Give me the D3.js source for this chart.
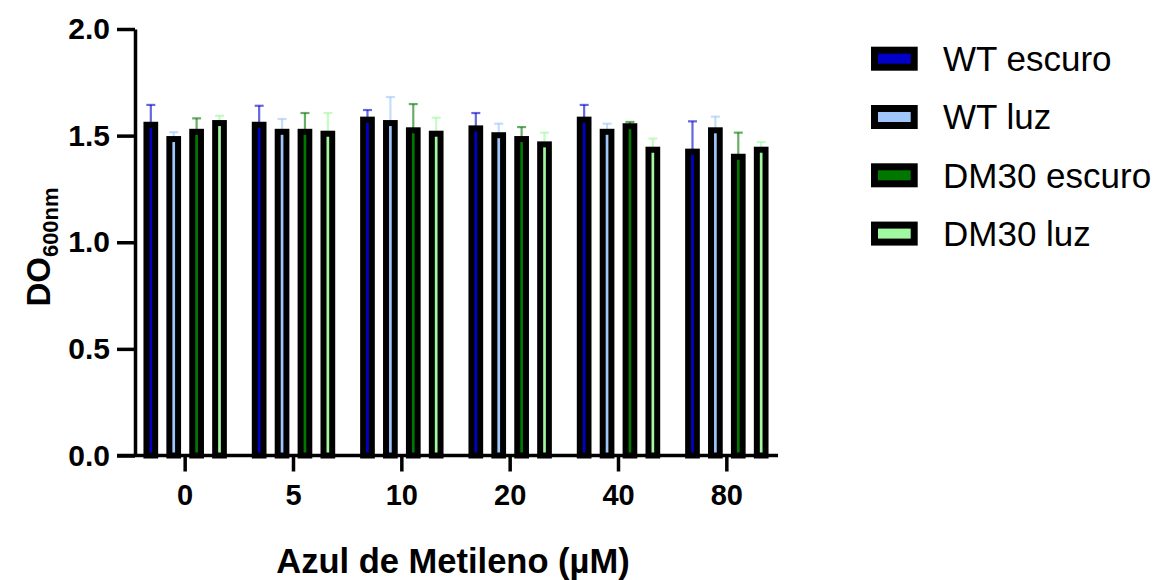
<!DOCTYPE html>
<html>
<head>
<meta charset="utf-8">
<script src="https://cdn.jsdelivr.net/npm/d3@7"></script>
<style>
  body { margin: 0; background: #fff; }
  svg { display: block; font-family: "Liberation Sans", Arial, sans-serif; }
</style>
</head>
<body>
<div id="chart"></div>
<script>
// concentrations of azul de metileno (µM)
var categories = ["0", "5", "10", "20", "40", "80"];
var seriesNames = ["WT escuro", "WT luz", "DM30 escuro", "DM30 luz"];
var seriesColors = ["#0000c8", "#9fc5fa", "#007800", "#a0f8a0"];

// mean OD600 per series, one value per concentration
var wtEscuro = [1.565, 1.565, 1.589, 1.548, 1.589, 1.439];
var wtLuz = [1.498, 1.532, 1.573, 1.516, 1.532, 1.539];
var dm30Escuro = [1.532, 1.532, 1.539, 1.498, 1.558, 1.415];
var dm30Luz = [1.573, 1.523, 1.523, 1.473, 1.448, 1.448];

// error (upper bar only)
var wtEscuroErr = [0.079, 0.075, 0.031, 0.058, 0.055, 0.128];
var wtLuzErr = [0.018, 0.046, 0.108, 0.040, 0.024, 0.050];
var dm30EscuroErr = [0.049, 0.074, 0.109, 0.042, 0.006, 0.099];
var dm30LuzErr = [0.020, 0.083, 0.061, 0.041, 0.038, 0.022];

var yTicks = [0, 0.5, 1.0, 1.5, 2.0];

function init(){

var w = 1153;
var h = 580;

var svg = d3.select("#chart")
    .append("svg")
    .attr("width", w)
    .attr("height", h);

var values = [wtEscuro, wtLuz, dm30Escuro, dm30Luz];
var errors = [wtEscuroErr, wtLuzErr, dm30EscuroErr, dm30LuzErr];

var data = [];
categories.forEach(function(c, i){
    seriesNames.forEach(function(s, j){
        data.push({cat: c, series: s, color: seriesColors[j], v: values[j][i], e: errors[j][i]});
    });
});

var y = d3.scaleLinear().domain([0, 2]).range([455.5, 29]);
var x0 = d3.scaleBand().domain(categories).range([131, 781]);
var x1 = d3.scaleBand().domain(seriesNames).range([-45.8, 45.8]);

var barOuter = 14.7;
var border = 6;

function cx(d){
    return x0(d.cat) + x0.bandwidth()/2 + x1(d.series) + x1.bandwidth()/2;
}

// error bars (drawn under the bars)
var err = svg.append("g")
    .selectAll("g")
    .data(data)
    .enter()
    .append("g")
    .attr("stroke", function(d){ return d.color; })
    .attr("stroke-opacity", 0.6)
    .attr("stroke-width", 2.2);

err.append("line")
    .attr("x1", cx)
    .attr("x2", cx)
    .attr("y1", function(d){ return y(d.v) + 2; })
    .attr("y2", function(d){ return y(d.v + d.e); });

err.append("line")
    .attr("x1", function(d){ return cx(d) - 4.5; })
    .attr("x2", function(d){ return cx(d) + 4.5; })
    .attr("y1", function(d){ return y(d.v + d.e); })
    .attr("y2", function(d){ return y(d.v + d.e); });

// bars: colour fill with a thick black border kept inside the bar
svg.append("g")
    .selectAll("rect")
    .data(data)
    .enter()
    .append("rect")
    .attr("x", function(d){ return cx(d) - barOuter/2 + border/2; })
    .attr("width", barOuter - border)
    .attr("y", function(d){ return y(d.v) + border/2; })
    .attr("height", function(d){ return y(0) - y(d.v) - border/2; })
    .attr("fill", function(d){ return d.color; })
    .attr("stroke", "#000")
    .attr("stroke-width", border);

// y axis
var yAxis = svg.append("g")
    .attr("transform", "translate(135,0)")
    .call(d3.axisLeft(y)
        .tickValues(yTicks)
        .tickSize(18)
        .tickSizeOuter(0)
        .tickPadding(7)
        .tickFormat(d3.format(".1f")));

yAxis.selectAll("text")
    .attr("fill", "#000")
    .attr("font-size", 30)
    .attr("font-weight", "bold");

// x axis
var xAxis = svg.append("g")
    .attr("transform", "translate(0,455.5)")
    .call(d3.axisBottom(x0)
        .tickSize(16)
        .tickSizeOuter(0)
        .tickPadding(13));

xAxis.select(".domain").remove();
xAxis.append("line")
    .attr("x1", 117)
    .attr("x2", 778)
    .attr("stroke", "#000");

xAxis.selectAll("text")
    .attr("fill", "#000")
    .attr("font-size", 29)
    .attr("font-weight", "bold");

svg.selectAll(".domain, .tick line, g line")
    .filter(function(){ return !this.parentNode.hasAttribute("stroke-opacity"); })
    .attr("stroke", "#000")
    .attr("stroke-width", 3.5);

// axis titles
svg.append("text")
    .attr("x", 453)
    .attr("y", 573)
    .attr("text-anchor", "middle")
    .attr("font-size", 34.5)
    .attr("font-weight", "bold")
    .text("Azul de Metileno (µM)");

var yt = svg.append("text")
    .attr("transform", "translate(50,247) rotate(-90)")
    .attr("text-anchor", "middle")
    .attr("font-size", 33)
    .attr("font-weight", "bold");
yt.append("tspan").text("DO");
yt.append("tspan").attr("font-size", 22).attr("dy", 8).text("600nm");

// legend
var legend = svg.append("g")
    .selectAll("g")
    .data(seriesNames)
    .enter()
    .append("g")
    .attr("transform", function(d, i){ return "translate(871," + (46.7 + i*58.3) + ")"; });

legend.append("rect")
    .attr("x", 3.5)
    .attr("y", 3.5)
    .attr("width", 39.7)
    .attr("height", 17)
    .attr("fill", function(d, i){ return seriesColors[i]; })
    .attr("stroke", "#000")
    .attr("stroke-width", 7);

legend.append("text")
    .attr("x", 72)
    .attr("y", 12)
    .attr("dy", "0.35em")
    .attr("font-size", 35)
    .attr("fill", "#000")
    .text(function(d){ return d; });
}

window.onload = init;
</script>
</body>
</html>
